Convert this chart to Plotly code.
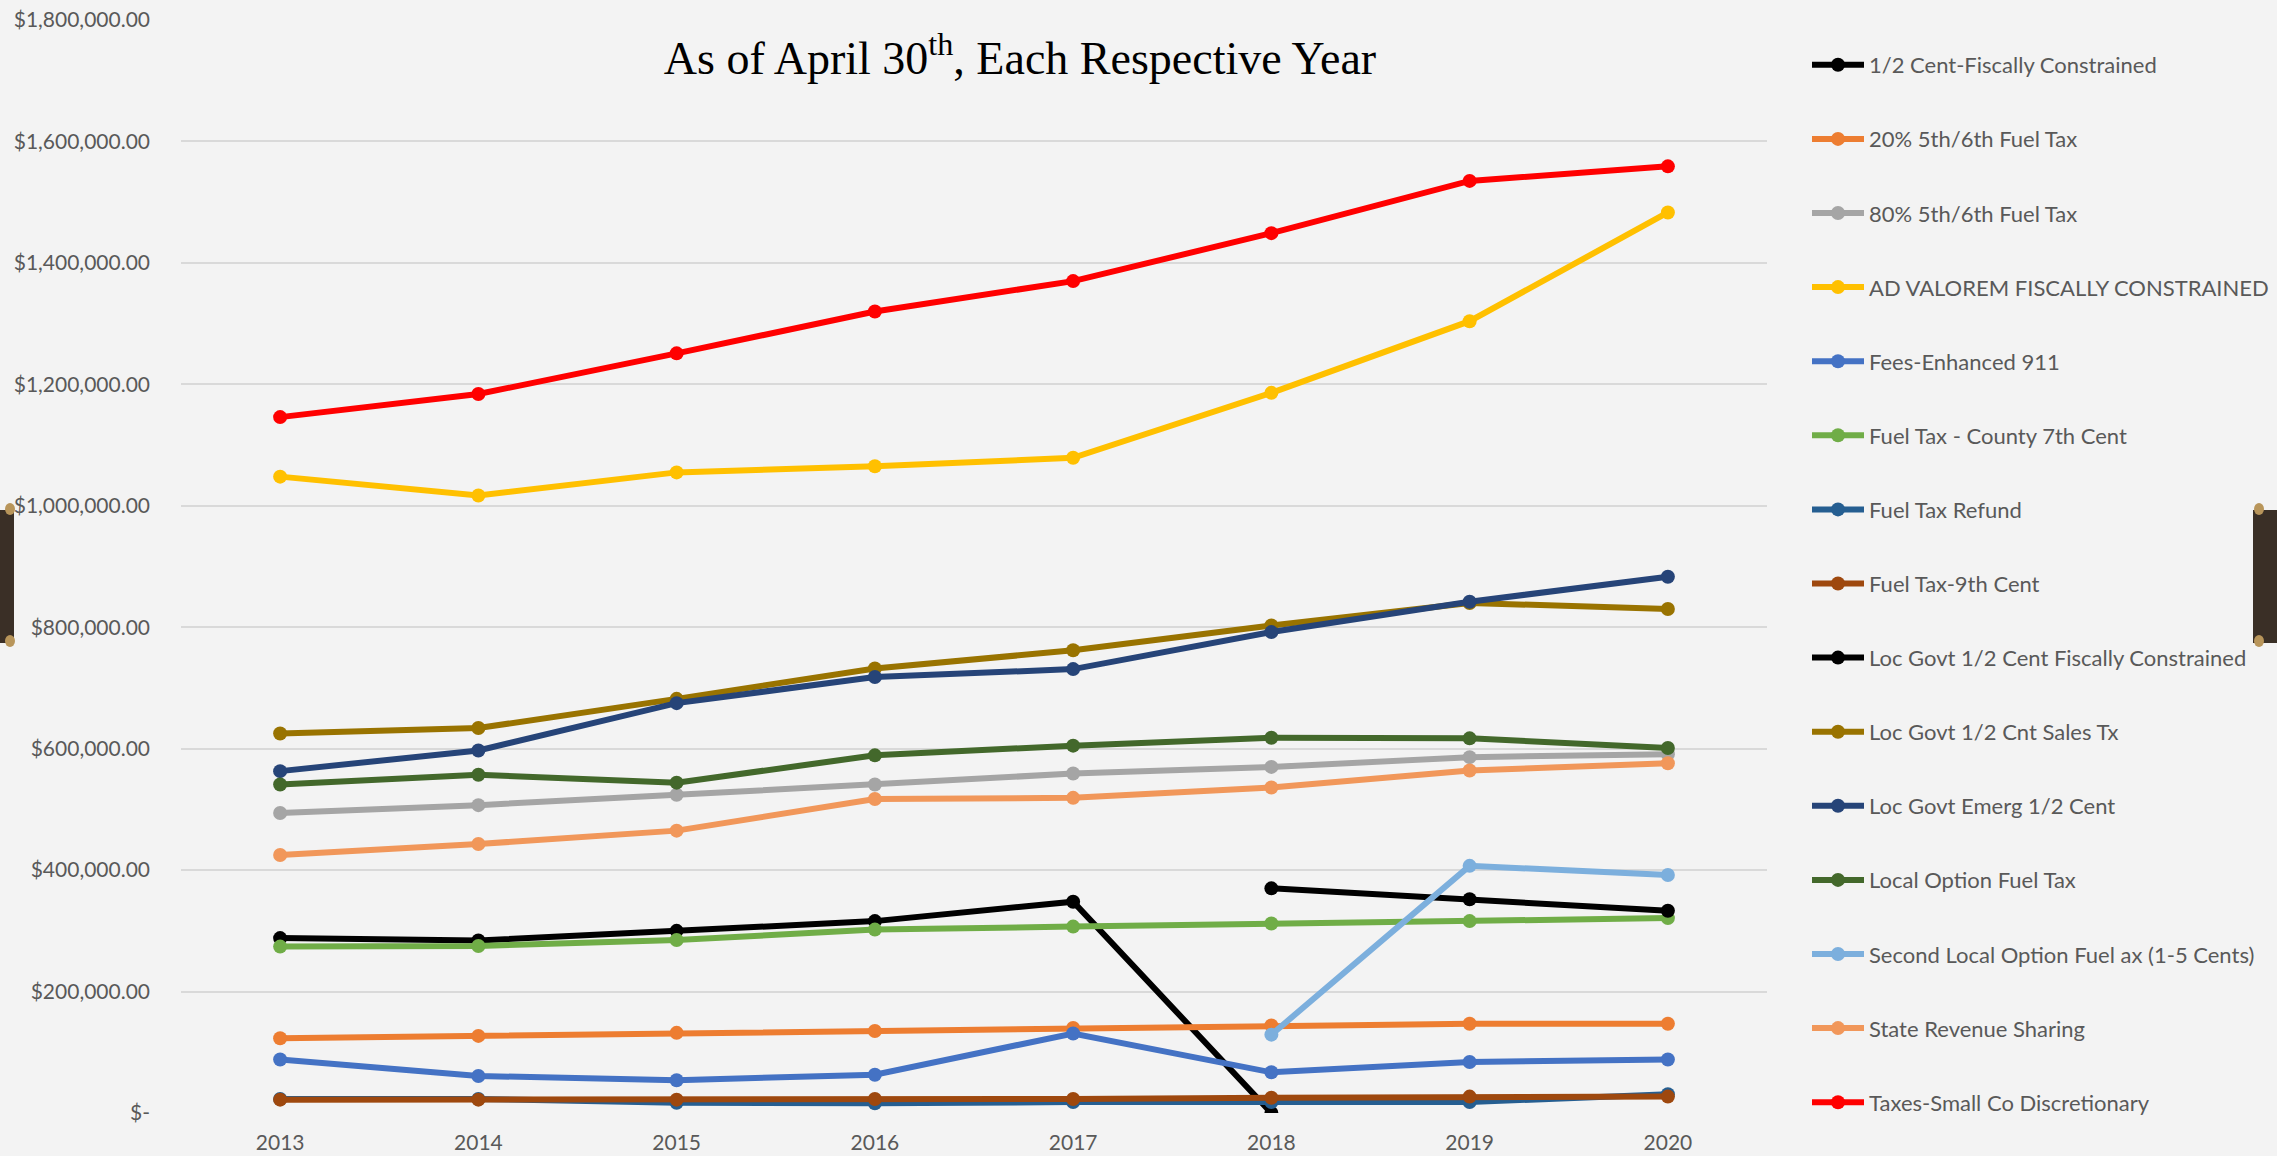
import plotly.graph_objects as go

# ---- data -------------------------------------------------------------
years = ["2013", "2014", "2015", "2016", "2017", "2018", "2019", "2020"]

half_cent_fiscally_constrained = [288000, 284000, 300000, 316000, 348000, 0, None, None]
fuel_tax_20pct_5th_6th = [123000, 127000, 132000, 135000, 140000, 144000, 147000, 147000]
fuel_tax_80pct_5th_6th = [494000, 507000, 524000, 541000, 559000, 570000, 586000, 591000]
ad_valorem_fiscally_constrained = [1048000, 1017000, 1055000, 1065000, 1079000, 1186000, 1304000, 1483000]
fees_enhanced_911 = [88000, 61000, 54000, 63000, 131000, 67000, 84000, 88000]
fuel_tax_county_7th_cent = [274000, 275000, 285000, 302000, 307000, 312000, 316000, 321000]
fuel_tax_refund = [23000, 23000, 17000, 16000, 18000, 18000, 18000, 31000]
fuel_tax_9th_cent = [22000, 22000, 22000, 23000, 23000, 25000, 27000, 27000]
loc_govt_half_cent_fiscally_constrained = [None, None, None, None, None, 370000, 352000, 333000]
loc_govt_half_cnt_sales_tx = [625000, 634000, 682000, 732000, 762000, 803000, 840000, 830000]
loc_govt_emerg_half_cent = [563000, 597000, 675000, 718000, 731000, 792000, 842000, 883000]
local_option_fuel_tax = [541000, 557000, 544000, 589000, 605000, 618000, 617000, 601000]
second_local_option_fuel_tax = [None, None, None, None, None, 129000, 407000, 392000]
state_revenue_sharing = [425000, 443000, 465000, 517000, 519000, 536000, 564000, 576000]
taxes_small_co_discretionary = [1146000, 1184000, 1251000, 1320000, 1370000, 1449000, 1535000, 1559000]

series_names = [
    "1/2 Cent-Fiscally Constrained",
    "20% 5th/6th Fuel Tax",
    "80% 5th/6th Fuel Tax",
    "AD VALOREM FISCALLY CONSTRAINED",
    "Fees-Enhanced 911",
    "Fuel Tax - County 7th Cent",
    "Fuel Tax Refund",
    "Fuel Tax-9th Cent",
    "Loc Govt 1/2 Cent Fiscally Constrained",
    "Loc Govt 1/2 Cnt Sales Tx",
    "Loc Govt Emerg 1/2 Cent",
    "Local Option Fuel Tax",
    "Second Local Option Fuel ax (1-5 Cents)",
    "State Revenue Sharing",
    "Taxes-Small Co Discretionary",
]
series_values = [
    half_cent_fiscally_constrained,
    fuel_tax_20pct_5th_6th,
    fuel_tax_80pct_5th_6th,
    ad_valorem_fiscally_constrained,
    fees_enhanced_911,
    fuel_tax_county_7th_cent,
    fuel_tax_refund,
    fuel_tax_9th_cent,
    loc_govt_half_cent_fiscally_constrained,
    loc_govt_half_cnt_sales_tx,
    loc_govt_emerg_half_cent,
    local_option_fuel_tax,
    second_local_option_fuel_tax,
    state_revenue_sharing,
    taxes_small_co_discretionary,
]
series_colors = [
    "#000000", "#ED7D31", "#A5A5A5", "#FFC000", "#4472C4",
    "#70AD47", "#255E91", "#9E480E", "#000000", "#997300",
    "#264478", "#43682B", "#7CAFDD", "#F1975A", "#FF0000",
]

y_tick_values = [0, 200000, 400000, 600000, 800000, 1000000, 1200000, 1400000, 1600000, 1800000]
y_tick_labels = ["$-", "$200,000.00", "$400,000.00", "$600,000.00", "$800,000.00",
                 "$1,000,000.00", "$1,200,000.00", "$1,400,000.00", "$1,600,000.00",
                 "$1,800,000.00"]

title_text = "As of April 30<sup>th</sup>, Each Respective Year"

# ---- figure -----------------------------------------------------------
W, H = 2277, 1156
ML, MR, MT, MB = 181, 510, 20, 43
PW, PH = W - ML - MR, H - MT - MB

def px_x(px):
    return (px - ML) / PW

def px_y(py):
    return (H - MB - py) / PH

fig = go.Figure()
for name, vals, col in zip(series_names, series_values, series_colors):
    fig.add_trace(go.Scatter(
        x=years, y=vals, name=name, mode="lines+markers",
        line=dict(color=col, width=6),
        marker=dict(color=col, size=14),
        legendgroup=name,
        connectgaps=False,
    ))

# decorative binder tabs on the page edges
tab_dark = "#3a2f26"
tab_gold = "#b8955a"
shapes = []
for x0, x1 in [(0, 14), (2253, 2277)]:
    shapes.append(dict(type="rect", xref="paper", yref="paper",
                       x0=px_x(x0), x1=px_x(x1), y0=px_y(643), y1=px_y(510),
                       fillcolor=tab_dark, line=dict(width=0), layer="above"))
    cx = x0 + 6 if x0 > 0 else x1 - 4
    for cy in (509, 641):
        shapes.append(dict(type="circle", xref="paper", yref="paper",
                           x0=px_x(cx - 5), x1=px_x(cx + 5),
                           y0=px_y(cy + 6), y1=px_y(cy - 6),
                           fillcolor=tab_gold, line=dict(width=0), layer="above"))

fig.update_layout(
    width=W, height=H,
    margin=dict(l=ML, r=MR, t=MT, b=MB, autoexpand=False),
    paper_bgcolor="#f3f3f3",
    plot_bgcolor="#f3f3f3",
    font=dict(family="Lato, Open Sans, sans-serif", color="#595959", size=21),
    title=dict(
        text=title_text,
        font=dict(family="Liberation Serif, serif", size=46, color="#000000"),
        x=px_x(1020), xref="paper", xanchor="center",
        y=1 - 58 / H, yref="container", yanchor="middle",
    ),
    xaxis=dict(
        type="category", categoryorder="array", categoryarray=years,
        range=[-0.5, len(years) - 0.5],
        showgrid=False, zeroline=False, showline=False,
        ticks="", ticklabelstandoff=15, automargin=False,
        tickfont=dict(size=21, color="#595959"),
    ),
    yaxis=dict(
        range=[0, 1800000],
        tickmode="array", tickvals=y_tick_values, ticktext=y_tick_labels,
        showgrid=True, gridcolor="#d9d9d9", gridwidth=2,
        zeroline=False, showline=False, ticks="",
        ticklabelstandoff=30, automargin=False,
        tickfont=dict(size=21, color="#595959"),
    ),
    legend=dict(
        x=px_x(1807), xanchor="left",
        y=px_y(44), yanchor="top",
        bgcolor="rgba(0,0,0,0)",
        font=dict(size=22, color="#595959"),
        tracegroupgap=42.5,
        itemwidth=52,
        maxheight=1150,
    ),
    shapes=shapes,
    showlegend=True,
)

fig.write_html("out.html")
